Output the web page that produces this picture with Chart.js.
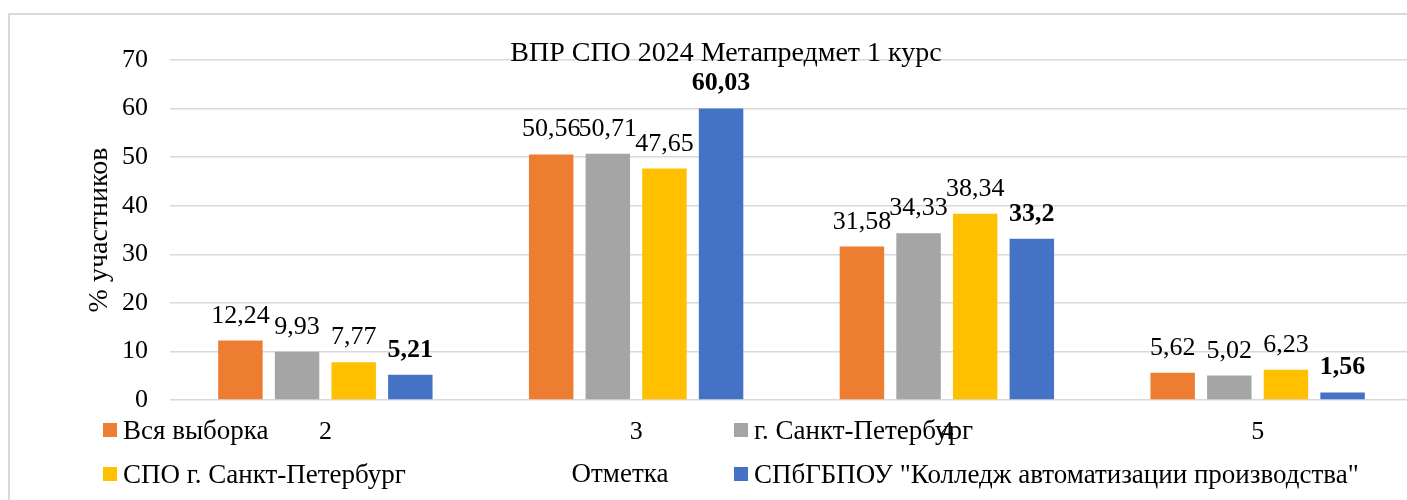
<!DOCTYPE html>
<html lang="ru">
<head>
<meta charset="utf-8">
<title>ВПР СПО 2024 Метапредмет 1 курс</title>
<script src="https://cdn.jsdelivr.net/npm/chart.js@4.4.1/dist/chart.umd.min.js"></script>
<style>
  html, body { margin: 0; padding: 0; background: #fff; overflow: hidden; }
  #box { position: relative; width: 1422px; height: 500px; }
</style>
</head>
<body>
<div id="box"><canvas id="chartBar"></canvas></div>
<script>
const chartTitle = "ВПР СПО 2024 Метапредмет 1 курс";
const xTitle = "Отметка";
const yTitle = "% участников";
const grades = ["2", "3", "4", "5"];
const seriesNames = [
  "Вся выборка",
  "г. Санкт-Петербург",
  "СПО г. Санкт-Петербург",
  'СПбГБПОУ "Колледж автоматизации производства"',
];
const allSample = [12.24, 50.56, 31.58, 5.62];
const spbCity = [9.93, 50.71, 34.33, 5.02];
const spoSpb = [7.77, 47.65, 38.34, 6.23];
const college = [5.21, 60.03, 33.2, 1.56];
const yMin = 0;
const yMax = 70;
const yStep = 10;

const colors = ["#ED7D31", "#A5A5A5", "#FFC000", "#4472C4"];
const FONT = "'Liberation Serif', 'Times New Roman', serif";
Chart.defaults.font.family = FONT;
Chart.defaults.color = "#000";

// legend sits in a 2x2 grid over the x labels, like the Word chart
const legendCells = [
  { x: 103, y: 439 },
  { x: 734, y: 439 },
  { x: 103, y: 483 },
  { x: 734, y: 483 },
];

const decor = {
  id: "decor",
  beforeDraw(chart) {
    const ctx = chart.ctx;
    ctx.save();
    ctx.strokeStyle = "#D9D9D9";
    ctx.lineWidth = 2;
    ctx.strokeRect(9, 14, 1600, 700);
    ctx.restore();
  },
  afterDatasetsDraw(chart) {
    const ctx = chart.ctx;
    ctx.save();
    ctx.textAlign = "center";
    ctx.textBaseline = "alphabetic";
    ctx.fillStyle = "#000";
    chart.data.datasets.forEach((ds, i) => {
      const last = i === chart.data.datasets.length - 1;
      ctx.font = (last ? "bold " : "") + "26px " + FONT;
      chart.getDatasetMeta(i).data.forEach((bar, j) => {
        const txt = String(ds.data[j]).replace(".", ",");
        ctx.fillText(txt, bar.x, bar.y - 18);
      });
    });
    ctx.restore();
  },
  afterDraw(chart) {
    const ctx = chart.ctx;
    ctx.save();
    ctx.fillStyle = "#000";
    ctx.textBaseline = "alphabetic";
    ctx.textAlign = "center";
    ctx.font = "28px " + FONT;
    ctx.fillText(chartTitle, 726, 61);
    ctx.font = "27px " + FONT;
    ctx.fillText(xTitle, 620, 482);
    ctx.textAlign = "left";
    chart.data.datasets.forEach((ds, i) => {
      const c = legendCells[i];
      ctx.fillStyle = ds.backgroundColor;
      ctx.fillRect(c.x, c.y - 16, 14, 14);
      ctx.fillStyle = "#000";
      ctx.fillText(ds.label, c.x + 20, c.y);
    });
    ctx.restore();
  },
};

const series = [allSample, spbCity, spoSpb, college];

new Chart(document.getElementById("chartBar").getContext("2d"), {
  type: "bar",
  data: {
    labels: grades,
    datasets: series.map((vals, i) => ({
      label: seriesNames[i],
      data: vals,
      backgroundColor: colors[i],
      borderWidth: 0,
      categoryPercentage: 0.729,
      barPercentage: 0.785,
    })),
  },
  options: {
    responsive: true,
    maintainAspectRatio: false,
    animation: false,
    layout: { padding: { top: 60, right: 9, left: 0, bottom: 0 } },
    plugins: {
      legend: { display: false },
      title: { display: false },
      tooltip: { enabled: false },
    },
    scales: {
      x: {
        grid: { display: false, drawTicks: false },
        border: { display: false },
        ticks: { font: { size: 26 }, padding: 17 },
        afterFit(scale) { scale.height = 100; },
      },
      y: {
        min: yMin,
        max: yMax,
        ticks: { stepSize: yStep, font: { size: 26 }, padding: 22 },
        grid: { color: "#D9D9D9", lineWidth: 1.5, drawTicks: false },
        border: { display: false },
        title: {
          display: true,
          text: yTitle,
          font: { size: 28 },
          padding: { top: 83, bottom: 0 },
        },
        afterFit(scale) { scale.width = 170; },
      },
    },
  },
  plugins: [decor],
});
</script>
</body>
</html>
